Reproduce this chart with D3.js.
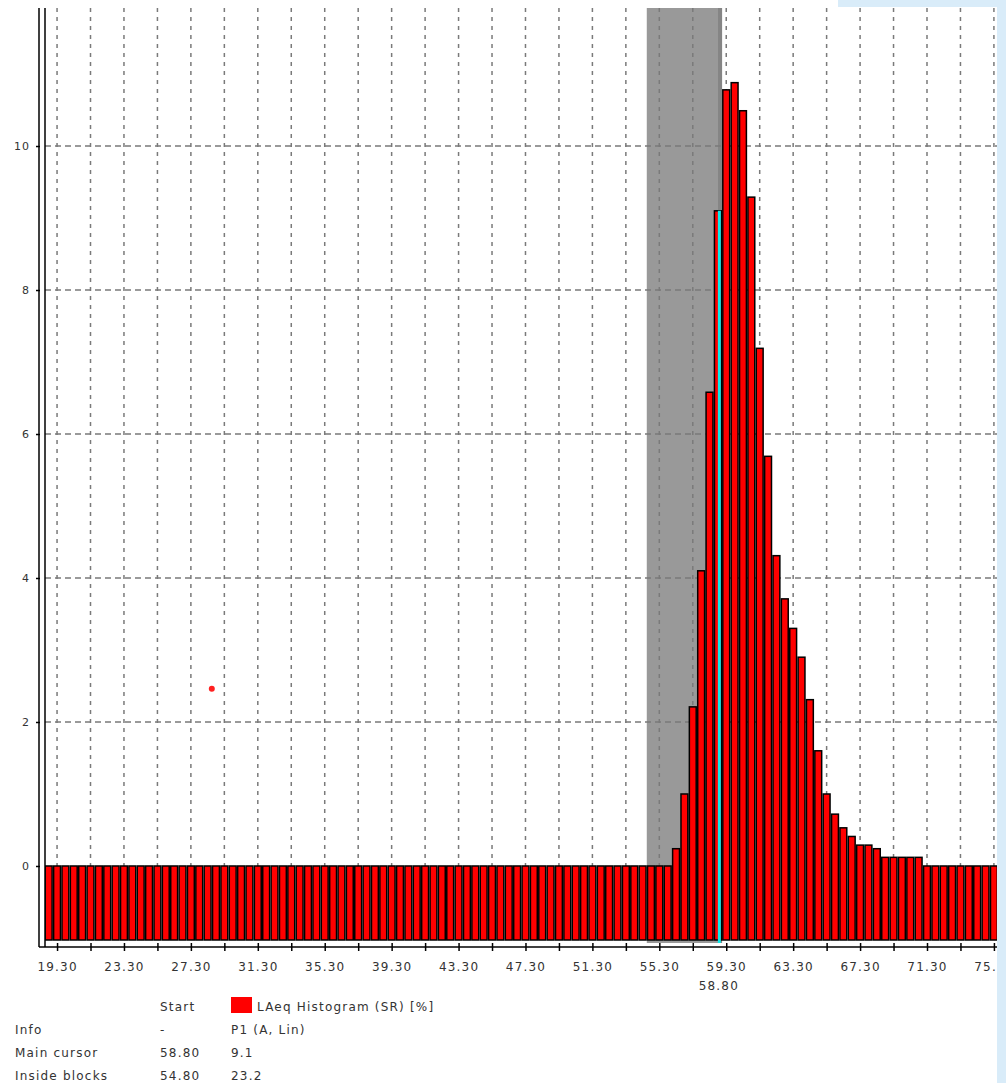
<!DOCTYPE html>
<html lang="en">
<head>
<meta charset="utf-8"/>
<title>LAeq Histogram</title>
<script src="https://d3js.org/d3.v7.min.js"></script>
<style>
    body { margin: 0; padding: 0; background: #ffffff; width: 1006px; height: 1083px; overflow: hidden; }
    svg text { font-family: 'DejaVu Sans', Verdana, sans-serif; font-size: 12px; fill: #333; letter-spacing: 1.2px; }
</style>
</head>
<body>
<div id="chart"></div>
<script>
// histogram bins (dB), 0.5 dB wide, first bin centred at 18.80
const binStart = 18.8;
const binWidth = 0.5;
// LAeq Histogram (SR) [%], one value per bin, 18.80 ... 75.30
const histValues = [
    0, 0, 0, 0, 0, 0, 0, 0, 0, 0,
    0, 0, 0, 0, 0, 0, 0, 0, 0, 0,
    0, 0, 0, 0, 0, 0, 0, 0, 0, 0,
    0, 0, 0, 0, 0, 0, 0, 0, 0, 0,
    0, 0, 0, 0, 0, 0, 0, 0, 0, 0,
    0, 0, 0, 0, 0, 0, 0, 0, 0, 0,
    0, 0, 0, 0, 0, 0, 0, 0, 0, 0,
    0, 0, 0, 0, 0,
    0.24, 1.0, 2.21, 4.1, 6.58, 9.1, 10.78, 10.88, 10.49, 9.29,
    7.19, 5.69, 4.31, 3.71, 3.30, 2.90, 2.31, 1.60, 1.00, 0.72,
    0.53, 0.41, 0.29, 0.29, 0.24, 0.12, 0.12, 0.12, 0.12, 0.12,
    0, 0, 0, 0, 0, 0, 0, 0, 0
];
const xTicks = [19.3, 21.3, 23.3, 25.3, 27.3, 29.3, 31.3, 33.3, 35.3, 37.3, 39.3, 41.3, 43.3, 45.3,
                47.3, 49.3, 51.3, 53.3, 55.3, 57.3, 59.3, 61.3, 63.3, 65.3, 67.3, 69.3, 71.3, 73.3, 75.3];
const xLabelled = [19.3, 23.3, 27.3, 31.3, 35.3, 39.3, 43.3, 47.3, 51.3, 55.3, 59.3, 63.3, 67.3, 71.3, 75.3];
const yTicks = [0, 2, 4, 6, 8, 10];
const yGrid = [2, 4, 6, 8, 10];
// selection and cursor
const blockStart = 54.8, blockEnd = 58.8;
const cursorX = 58.8, cursorY = 9.1;
const extraPoint = [28.55, 2.46];
const legendRows = [
    ["", "Start", "LAeq Histogram (SR) [%]"],
    ["Info", "-", "P1 (A, Lin)"],
    ["Main cursor", "58.80", "9.1"],
    ["Inside blocks", "54.80", "23.2"]
];

const W = 1006, H = 1083;
const plot = {left: 45, right: 997, top: 8, bottom: 940};

const bins = histValues.map((v, i) => ({c: binStart + i * binWidth, v: v}));

const svg = d3.select("#chart").append("svg")
    .attr("width", W).attr("height", H);

const x = d3.scaleLinear().domain([18.55, 75.55]).range([44.5, 998.1]);
const y = d3.scaleLinear().domain([-1.028, 11.917]).range([plot.bottom, plot.top]);

svg.append("defs").append("clipPath").attr("id", "pclip")
    .append("rect").attr("x", plot.left).attr("y", 0)
    .attr("width", plot.right - plot.left).attr("height", 960);

const g = svg.append("g").attr("clip-path", "url(#pclip)");

// inside-blocks band
g.append("rect")
    .attr("x", x(blockStart - binWidth / 2))
    .attr("y", plot.top)
    .attr("width", x(blockEnd + binWidth / 2) - x(blockStart - binWidth / 2))
    .attr("height", 943 - plot.top)
    .attr("fill", "#999999");
g.append("rect")
    .attr("x", x(blockEnd + binWidth / 2) - 4)
    .attr("y", plot.top)
    .attr("width", 4)
    .attr("height", 943 - plot.top)
    .attr("fill", "#858585");

// grid
g.selectAll(".vgrid").data(xTicks).enter().append("line")
    .attr("x1", d => x(d)).attr("x2", d => x(d))
    .attr("y1", plot.top).attr("y2", y(0))
    .attr("stroke", "#7a7a7a").attr("stroke-width", 1.5)
    .attr("stroke-dasharray", "4,5");
g.selectAll(".hgrid").data(yGrid).enter().append("line")
    .attr("x1", plot.left).attr("x2", plot.right)
    .attr("y1", d => y(d)).attr("y2", d => y(d))
    .attr("stroke", "#7a7a7a").attr("stroke-width", 1.5)
    .attr("stroke-dasharray", "6,4");

// bars
g.selectAll(".bar").data(bins).enter().append("rect")
    .attr("x", d => x(d.c - binWidth / 2) + 0.75)
    .attr("width", d => x(d.c + binWidth / 2) - x(d.c - binWidth / 2) - 1.5)
    .attr("y", d => y(d.v))
    .attr("height", d => plot.bottom - y(d.v))
    .attr("fill", "#ff0000")
    .attr("stroke", "#000")
    .attr("stroke-width", 1.5);

// main cursor
g.append("line")
    .attr("x1", x(cursorX) + 1.5).attr("x2", x(cursorX) + 1.5)
    .attr("y1", y(cursorY)).attr("y2", 943)
    .attr("stroke", "#10e8e8").attr("stroke-width", 3);

// extra point
g.append("circle")
    .attr("cx", x(extraPoint[0])).attr("cy", y(extraPoint[1]))
    .attr("r", 3).attr("fill", "#ff2020");

// y axis (double line)
svg.append("line").attr("x1", 39).attr("x2", 39).attr("y1", plot.top).attr("y2", 947)
    .attr("stroke", "#000").attr("stroke-width", 1.5);
svg.append("line").attr("x1", 45).attr("x2", 45).attr("y1", plot.top).attr("y2", 947)
    .attr("stroke", "#000").attr("stroke-width", 1.5);

const yAxis = svg.append("g")
    .attr("transform", "translate(40,0)")
    .call(d3.axisLeft(y).tickValues(yTicks).tickSize(4).tickPadding(6).tickFormat(d3.format("d")));
yAxis.select(".domain").remove();
yAxis.selectAll("line").attr("stroke", "#000").attr("stroke-width", 1.5);
yAxis.selectAll("text").attr("fill", "#3a3a3a").style("font-size", "11px").style("letter-spacing", "1px");

// x axis
svg.append("line").attr("x1", 39).attr("x2", plot.right).attr("y1", 947).attr("y2", 947)
    .attr("stroke", "#000").attr("stroke-width", 1.5);
const xAxis = svg.append("g")
    .attr("transform", "translate(0,943)")
    .call(d3.axisBottom(x).tickValues(xTicks).tickSize(8).tickPadding(11)
        .tickFormat(d => xLabelled.some(v => Math.abs(v - d) < 1e-6) ? d.toFixed(2) : ""));
xAxis.select(".domain").remove();
xAxis.selectAll("line").attr("stroke", "#000").attr("stroke-width", 1.5);
xAxis.selectAll("text").attr("fill", "#3a3a3a");

// cursor label
svg.append("text")
    .attr("x", x(cursorX) + 1).attr("y", 990)
    .attr("text-anchor", "middle")
    .attr("fill", "#3a3a3a")
    .text(cursorX.toFixed(2));

// right frame strip
svg.append("rect").attr("x", 997).attr("y", 0).attr("width", W - 997).attr("height", H).attr("fill", "#d9ecf9");
svg.append("rect").attr("x", 838).attr("y", 0).attr("width", W - 838).attr("height", 7).attr("fill", "#d9ecf9");

// info table
const rowY = [1011, 1034, 1057, 1080];
const colX = [15, 160, 231];
legendRows.forEach((row, i) => {
    svg.append("text").attr("x", colX[0]).attr("y", rowY[i]).text(row[0]);
    svg.append("text").attr("x", colX[1]).attr("y", rowY[i]).text(row[1]);
    if (i === 0) {
        svg.append("rect").attr("x", 231).attr("y", 997).attr("width", 21).attr("height", 16).attr("fill", "#ff0000");
        svg.append("text").attr("x", 257).attr("y", rowY[i]).text(row[2]);
    } else {
        svg.append("text").attr("x", colX[2]).attr("y", rowY[i]).text(row[2]);
    }
});
</script>
</body>
</html>
